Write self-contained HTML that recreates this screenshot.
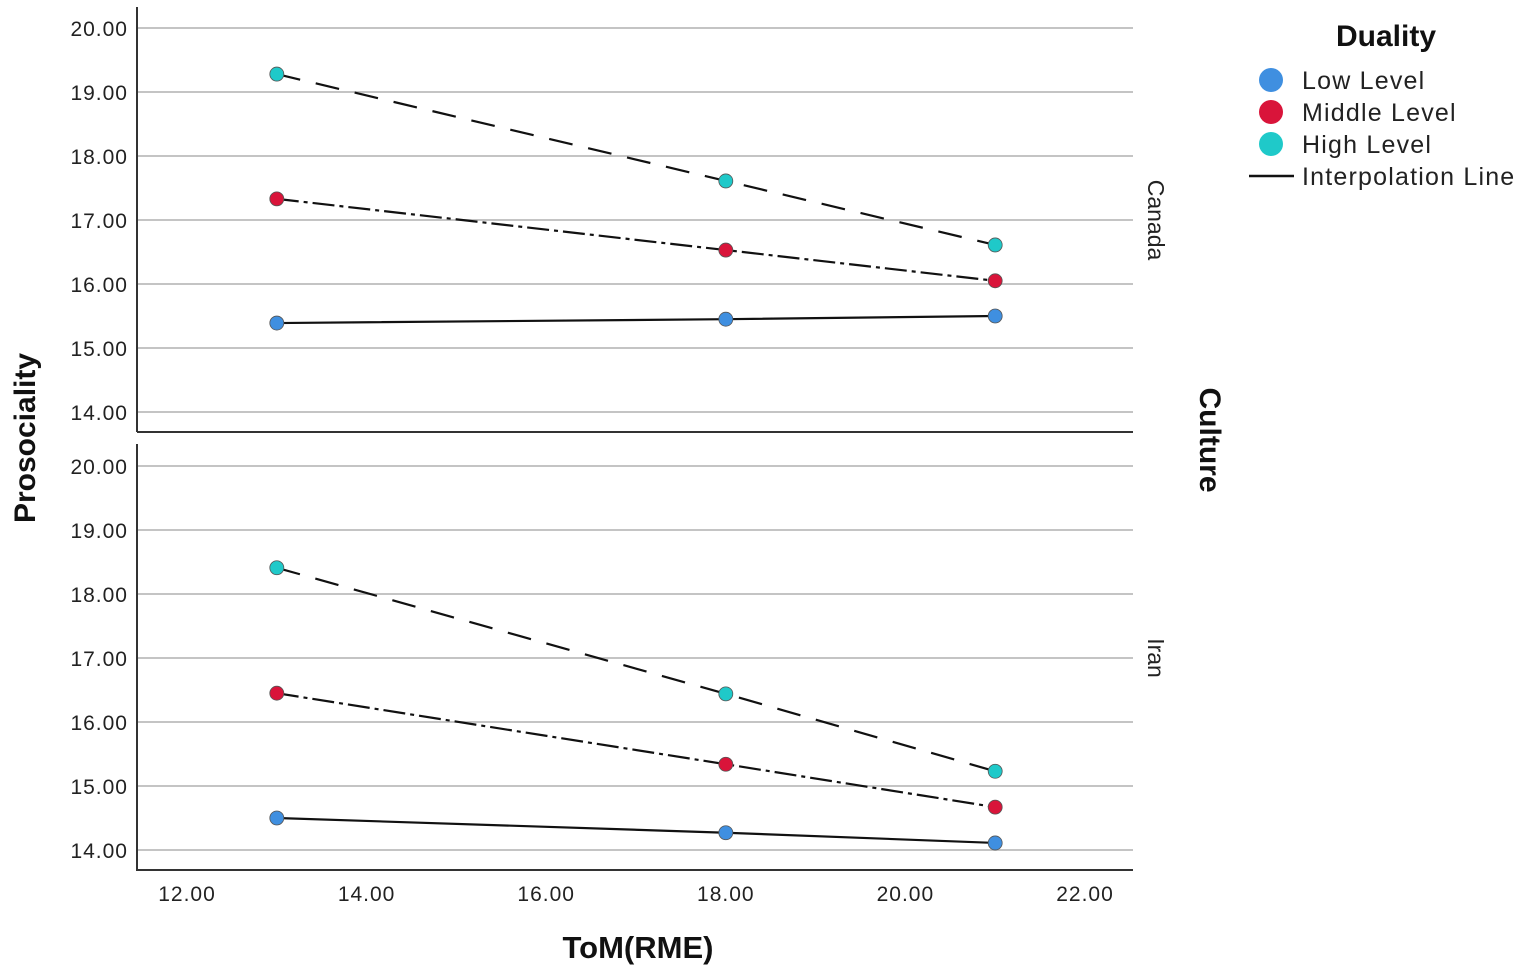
<!DOCTYPE html>
<html><head><meta charset="utf-8"><style>
body{margin:0;background:#fff;}
svg{display:block;font-family:"Liberation Sans",sans-serif;}
</style></head><body>
<svg id="chart" width="1535" height="970" viewBox="0 0 1535 970"></svg>
<script>
const xTicks=[12,14,16,18,20,22];
const xTickLabels=["12.00","14.00","16.00","18.00","20.00","22.00"];
const yTicks=[14,15,16,17,18,19,20];
const yTickLabels=["14.00","15.00","16.00","17.00","18.00","19.00","20.00"];
const xCats=[13,18,21];
const panels=["Canada","Iran"];
const canadaLow=[15.39,15.45,15.50];
const canadaMid=[17.33,16.53,16.05];
const canadaHigh=[19.28,17.61,16.61];
const iranLow=[14.50,14.27,14.11];
const iranMid=[16.45,15.34,14.67];
const iranHigh=[18.41,16.44,15.23];
const seriesNames=["Low Level","Middle Level","High Level"];
const seriesColors=["#3f8fe0","#d9143a","#1fc9c9"];

const NS="http://www.w3.org/2000/svg";
const svg=document.getElementById('chart');
function mk(tag,attrs,parent){const e=document.createElementNS(NS,tag);for(const k in attrs)e.setAttribute(k,attrs[k]);(parent||svg).appendChild(e);return e;}
const xS=v=>187+(v-12)*89.8;
const panelTop=[28,466];
const yS=(p,v)=>panelTop[p]+(20-v)*64;
const data=[[canadaLow,canadaMid,canadaHigh],[iranLow,iranMid,iranHigh]];
const dashes=["","22 5 4 5","24 16"];
const panelName=["canada-panel","iran-panel"];

for(let p=0;p<2;p++){
  const g=mk('g',{});
  
  
  yTicks.forEach((t,i)=>{
    const l=mk('line',{x1:137,x2:1133,y1:yS(p,t),y2:yS(p,t),stroke:'#c4c4c4','stroke-width':2},g);
    
    
    const tx=mk('text',{x:128,y:yS(p,t)+8,'text-anchor':'end','font-size':21,'letter-spacing':1,fill:'#222'},g);
    tx.textContent=yTickLabels[i];
    
    
  });
  const ax=mk('line',{x1:137,x2:137,y1:p?444:7,y2:p?871:432,stroke:'#333','stroke-width':2},g);
  
  
  const bx=mk('line',{x1:137,x2:1133,y1:p?870:432,y2:p?870:432,stroke:'#333','stroke-width':2},g);
  
  
  for(let s=0;s<3;s++){
    const pts=xCats.map((x,i)=>xS(x)+','+yS(p,data[p][s][i])).join(' ');
    const pl=mk('polyline',{points:pts,fill:'none',stroke:'#111','stroke-width':2.2,'stroke-dasharray':dashes[s]},g);
    
    
  }
  for(let s=0;s<3;s++){
    xCats.forEach((x,i)=>{
      const c=mk('circle',{cx:xS(x),cy:yS(p,data[p][s][i]),r:7,fill:seriesColors[s],stroke:'#555','stroke-width':0.8},g);
      
      
    });
  }
  const lab=mk('text',{x:0,y:0,'font-size':23,fill:'#222','text-anchor':'middle',transform:`translate(1148,${p?658:220}) rotate(90)`},g);
  lab.textContent=panels[p];
  
  
}
xTicks.forEach((t,i)=>{
  const tx=mk('text',{x:xS(t),y:901,'text-anchor':'middle','font-size':21,'letter-spacing':1,fill:'#222'});
  tx.textContent=xTickLabels[i];
  
  
});
let t=mk('text',{x:638,y:958,'text-anchor':'middle','font-size':31,'font-weight':'bold',fill:'#111'});
t.textContent='ToM(RME)';


t=mk('text',{x:0,y:0,'text-anchor':'middle','font-size':30,'font-weight':'bold',fill:'#111',transform:'translate(35,438) rotate(-90)'});
t.textContent='Prosociality';


t=mk('text',{x:0,y:0,'text-anchor':'middle','font-size':30,'font-weight':'bold',fill:'#111',transform:'translate(1200,440) rotate(90)'});
t.textContent='Culture';


t=mk('text',{x:1386,y:46,'text-anchor':'middle','font-size':30,'font-weight':'bold',fill:'#111'});
t.textContent='Duality';


seriesNames.forEach((n,i)=>{
  const y=80+i*32;
  const c=mk('circle',{cx:1271,cy:y,r:12,fill:seriesColors[i]});
  
  
  const tx=mk('text',{x:1302,y:y+9,'font-size':25,'letter-spacing':1.2,fill:'#222'});
  tx.textContent=n;
  
  
});
const ll=mk('line',{x1:1249,x2:1294,y1:176,y2:176,stroke:'#111','stroke-width':2.5});


t=mk('text',{x:1302,y:185,'font-size':25,'letter-spacing':1.2,fill:'#222'});
t.textContent='Interpolation Line';


</script>
</body></html>
